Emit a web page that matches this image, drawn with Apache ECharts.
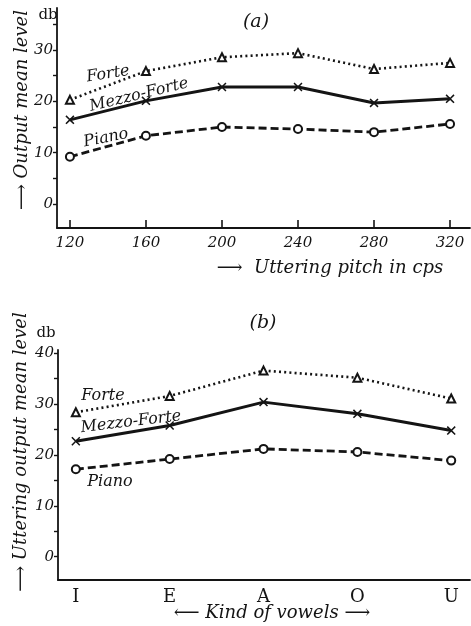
<!DOCTYPE html>
<html>
<head>
<meta charset="utf-8">
<script src="https://cdn.jsdelivr.net/npm/echarts@6/dist/echarts.min.js"></script>
<style>html,body{margin:0;padding:0;background:#fff;}#c{width:471px;height:626px;}</style>
</head>
<body>
<div id="c"></div>
<script>
// ---- Panel (a): output mean level vs uttering pitch ----
var pitches = [120, 160, 200, 240, 280, 320];
var forteA = [20.3, 25.9, 28.6, 29.4, 26.3, 27.5];
var mezzoA = [16.4, 20.1, 22.8, 22.8, 19.7, 20.5];
var pianoA = [9.2, 13.3, 15.0, 14.6, 14.0, 15.6];
var yTicksA = [0, 5, 10, 15, 20, 25, 30, 35];
var yLabelsA = [0, 10, 20, 30];

// ---- Panel (b): uttering output mean level vs kind of vowels ----
var vowels = ['I', 'E', 'A', 'O', 'U'];
var forteB = [28.4, 31.6, 36.6, 35.2, 31.1];
var mezzoB = [22.7, 25.8, 30.4, 28.1, 24.8];
var pianoB = [17.2, 19.2, 21.2, 20.6, 18.9];
var yTicksB = [0, 5, 10, 15, 20, 25, 30, 35, 40];
var yLabelsB = [0, 10, 20, 30, 40];

var FONT = 'DejaVu Serif';
var INK = '#141414';
var crossPath = 'path://M0,1.2L1.2,0L5,3.8L8.8,0L10,1.2L6.2,5L10,8.8L8.8,10L5,6.2L1.2,10L0,8.8L3.8,5Z';

function pairs(xs, ys) { return xs.map(function (x, i) { return [x, ys[i]]; }); }
var vowelIdx = vowels.map(function (v, i) { return i; });

function lineSeries(name, data, xi, kind) {
  var s = {
    name: name, type: 'line', xAxisIndex: xi, yAxisIndex: xi, data: data,
    silent: true, animation: false, z: 3,
    itemStyle: { color: INK, borderColor: INK, borderWidth: 1.3 }
  };
  if (kind === 'forte') {
    s.symbol = 'emptyTriangle'; s.symbolSize = 8;
    s.lineStyle = { color: INK, width: 2.6, type: [2, 3.2] };
  } else if (kind === 'mezzo') {
    s.symbol = crossPath; s.symbolSize = 9;
    s.lineStyle = { color: INK, width: 3 };
    s.itemStyle = { color: INK };
  } else {
    s.symbol = 'emptyCircle'; s.symbolSize = 8;
    s.lineStyle = { color: INK, width: 2.8, type: [8, 4] };
  }
  return s;
}

var axisLineStyle = { show: true, onZero: false, lineStyle: { color: INK, width: 1.8 } };
var labelFont = { color: INK, fontFamily: FONT, fontStyle: 'italic', fontSize: 15 };

function txt(text, x, y, size, rot, extra) {
  return {
    type: 'text', x: x, y: y, rotation: rot || 0, silent: true,
    style: Object.assign({
      text: text, x: 0, y: 0, align: 'center', verticalAlign: 'middle',
      fill: INK, font: 'italic ' + size + 'px "' + FONT + '"'
    }, extra || {})
  };
}

var option = {
  backgroundColor: '#ffffff',
  animation: false,
  grid: [
    { left: 57, top: 8, width: 413, height: 220 },
    { left: 58, top: 350, width: 412, height: 230 }
  ],
  xAxis: [
    {
      type: 'value', gridIndex: 0, min: 113.2, max: 330.5,
      splitLine: { show: false },
      axisLine: axisLineStyle,
      axisTick: { show: true, inside: true, length: 8, customValues: pitches, lineStyle: { color: INK, width: 1.6 } },
      axisLabel: Object.assign({ customValues: pitches, margin: 8 }, labelFont)
    },
    {
      type: 'value', gridIndex: 1, min: -0.19, max: 4.2,
      splitLine: { show: false },
      axisLine: axisLineStyle,
      axisTick: { show: false },
      axisLabel: Object.assign({}, labelFont, {
        customValues: vowelIdx, margin: 8, fontSize: 18, fontStyle: 'normal',
        formatter: function (v) { return vowels[Math.round(v)]; }
      })
    }
  ],
  yAxis: [
    {
      type: 'value', gridIndex: 0, min: -4.68, max: 38.2,
      splitLine: { show: false },
      axisLine: axisLineStyle,
      axisTick: { show: true, length: 4, customValues: yTicksA, lineStyle: { color: INK, width: 1.4 } },
      axisLabel: Object.assign({ customValues: yLabelsA, margin: 4 }, labelFont)
    },
    {
      type: 'value', gridIndex: 1, min: -4.58, max: 40.65,
      splitLine: { show: false },
      axisLine: axisLineStyle,
      axisTick: { show: true, length: 4, customValues: yTicksB, lineStyle: { color: INK, width: 1.4 } },
      axisLabel: Object.assign({ customValues: yLabelsB, margin: 4 }, labelFont)
    }
  ],
  series: [
    lineSeries('Forte', pairs(pitches, forteA), 0, 'forte'),
    lineSeries('Mezzo-Forte', pairs(pitches, mezzoA), 0, 'mezzo'),
    lineSeries('Piano', pairs(pitches, pianoA), 0, 'piano'),
    lineSeries('Forte', pairs(vowelIdx, forteB), 1, 'forte'),
    lineSeries('Mezzo-Forte', pairs(vowelIdx, mezzoB), 1, 'mezzo'),
    lineSeries('Piano', pairs(vowelIdx, pianoB), 1, 'piano')
  ],
  graphic: [
    // panel (a)
    txt('(a)', 256, 22, 19, 0),
    txt('db', 48, 15, 15, 0, { font: '15px "' + FONT + '"' }),
    txt('\u27F6 Output mean level', 22, 110, 18, Math.PI / 2),
    txt('\u27F6  Uttering pitch in cps', 330, 268, 18, 0),
    txt('Forte', 108, 74, 16, 0.16),
    txt('Mezzo-Forte', 139, 95, 16, 0.24),
    txt('Piano', 106, 138, 16, 0.2),
    // panel (b)
    txt('(b)', 263, 323, 19, 0),
    txt('db', 46, 333, 15, 0, { font: '15px "' + FONT + '"' }),
    txt('\u27F6 Uttering output mean level', 21, 452, 18, Math.PI / 2),
    txt('\u27F5 Kind of vowels \u27F6', 272, 613, 18, 0),
    txt('Forte', 103, 396, 16, 0),
    txt('Mezzo-Forte', 131, 422, 16, 0.12),
    txt('Piano', 110, 482, 16, 0)
  ]
};

var chart = echarts.init(document.getElementById('c'), null, { renderer: 'canvas' });
chart.setOption(option);
</script>
</body>
</html>
